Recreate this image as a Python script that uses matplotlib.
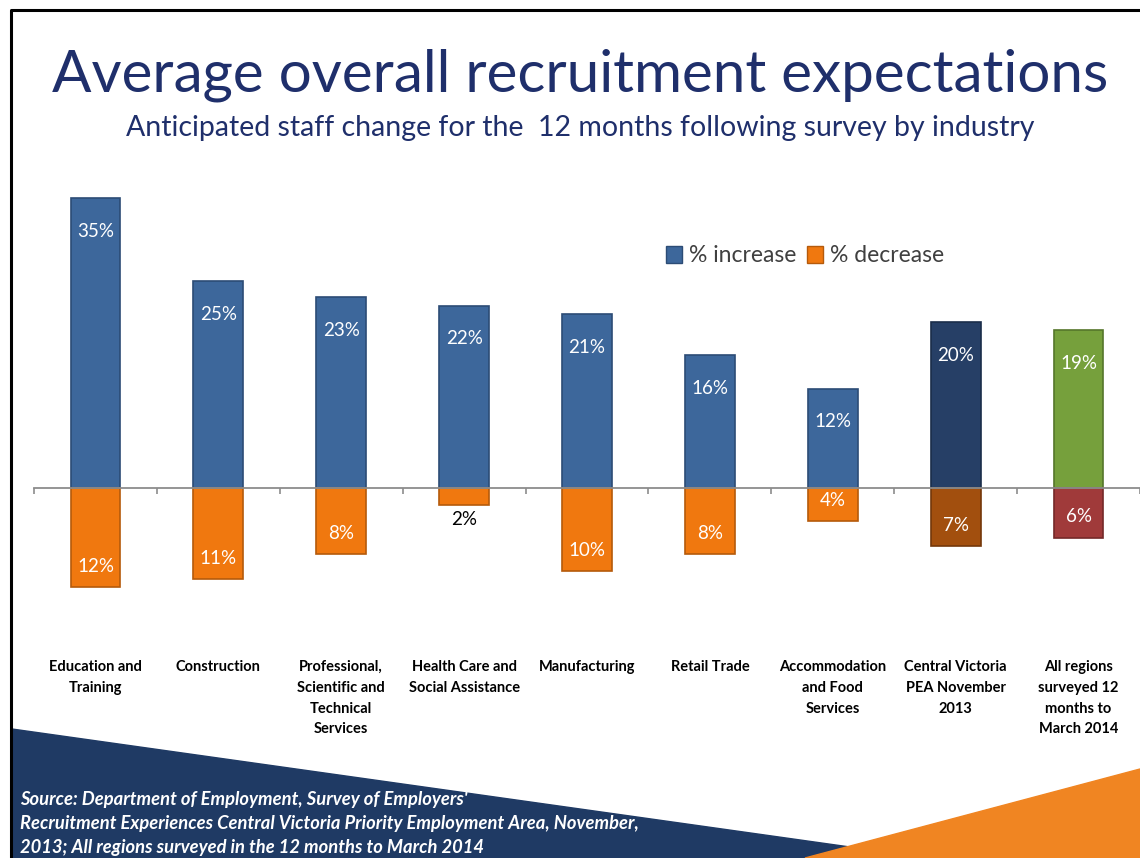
import matplotlib.pyplot as plt
from matplotlib.patches import Polygon, Patch
from matplotlib.lines import Line2D
import matplotlib.transforms as mtransforms

plt.rcParams['font.family'] = ['Lato', 'DejaVu Sans']

# datos
categorias = ["Education and\nTraining", "Construction",
              "Professional,\nScientific and\nTechnical\nServices",
              "Health Care and\nSocial Assistance", "Manufacturing", "Retail Trade",
              "Accommodation\nand Food\nServices", "Central Victoria\nPEA November\n2013",
              "All regions\nsurveyed 12\nmonths to\nMarch 2014"]
aumento = [35, 25, 23, 22, 21, 16, 12, 20, 19]
disminucion = [12, 11, 8, 2, 10, 8, 4, 7, 6]

col_aum = ["#3D679B"] * 7 + ["#263F66", "#76A03C"]
col_dis = ["#F0780F"] * 7 + ["#A24F0E", "#A03A3A"]
borde_aum = ["#2C4C75"] * 7 + ["#1A2D4A", "#55762A"]
borde_dis = ["#B55A0B"] * 7 + ["#74380A", "#742828"]

W, H = 1140, 858
fig = plt.figure(figsize=(W / 100, H / 100), dpi=100)

def fx(px):
    return px / W

def fy(py):
    return 1 - py / H

# fondo: triangulos de la diapositiva
fig.patches.append(Polygon([(fx(12), fy(729)), (fx(928), fy(858)), (fx(12), fy(858))],
                           closed=True, transform=fig.transFigure, color="#1F3A64", zorder=0))
fig.patches.append(Polygon([(fx(805), fy(858)), (fx(1140), fy(769)), (fx(1140), fy(858))],
                           closed=True, transform=fig.transFigure, color="#F08522", zorder=1))
# marco negro
fig.lines.append(Line2D([fx(11), fx(11), fx(1140)], [fy(858), fy(10), fy(10)],
                        transform=fig.transFigure, color="black", lw=2.2))

# titulos
fig.text(fx(580), fy(75), "Average overall recruitment expectations", ha="center", va="center",
         fontsize=42, color="#1F2F6B")
fig.text(fx(580), fy(128), "Anticipated staff change for the  12 months following survey by industry",
         ha="center", va="center", fontsize=20.5, color="#1F2F6B")

# grafico
y_top, y_bot = 180, 600
ax = fig.add_axes([fx(34), fy(y_bot), 1 - fx(34), (y_bot - y_top) / H])
escala = 8.29
ax.set_ylim(-(y_bot - 488) / escala, (488 - y_top) / escala)
paso = 123.6
ax.set_xlim(-0.5, -0.5 + (W - 34) / paso)

x = list(range(len(categorias)))
ax.bar(x, aumento, width=0.405, color=col_aum, edgecolor=borde_aum, linewidth=1.2, zorder=2)
ax.bar(x, [-d for d in disminucion], width=0.405, color=col_dis, edgecolor=borde_dis,
       linewidth=1.2, zorder=2)

for i in x:
    ax.annotate(f"{aumento[i]}%", (i, aumento[i]), xytext=(0, -24), textcoords="offset points",
                ha="center", va="center", color="white", fontsize=13.5, zorder=3)
    if disminucion[i] >= 4:
        ax.annotate(f"{disminucion[i]}%", (i, -disminucion[i]), xytext=(0, 15),
                    textcoords="offset points", ha="center", va="center", color="white",
                    fontsize=13.5, zorder=3)
    else:
        ax.annotate(f"{disminucion[i]}%", (i, -disminucion[i]), xytext=(0, -11),
                    textcoords="offset points", ha="center", va="center", color="black",
                    fontsize=13.5, zorder=3)

for s in ["top", "right", "left"]:
    ax.spines[s].set_visible(False)
ax.spines["bottom"].set_position(("data", 0))
ax.spines["bottom"].set_color("#8C8C8C")
ax.spines["bottom"].set_linewidth(1.3)
ax.set_yticks([])
ax.set_xticks([i - 0.5 for i in range(len(categorias) + 1)])
ax.set_xticklabels([])
ax.tick_params(axis="x", direction="out", length=4, color="#8C8C8C", width=1.2)
ax.patch.set_alpha(0)

# etiquetas de categoria
trans = mtransforms.blended_transform_factory(ax.transData, fig.transFigure)
for i, c in enumerate(categorias):
    ax.text(i, fy(660), c, transform=trans, ha="center", va="top", fontsize=10.5,
            fontweight="bold", linespacing=1.62, color="black", clip_on=False)

# leyenda
handles = [Patch(facecolor="#3D679B", edgecolor="#2C4C75", label="% increase"),
           Patch(facecolor="#F0780F", edgecolor="#B55A0B", label="% decrease")]
fig.legend(handles=handles, loc="center", bbox_to_anchor=(fx(805), fy(256)), ncol=2,
           frameon=False, fontsize=16.5, handlelength=0.7, handleheight=0.7,
           handletextpad=0.3, columnspacing=0.5, labelcolor="#404040")

# fuente
fig.text(fx(20), fy(824), "Source: Department of Employment, Survey of Employers'\n"
         "Recruitment Experiences Central Victoria Priority Employment Area, November,\n"
         "2013; All regions surveyed in the 12 months to March 2014",
         ha="left", va="center", color="white", fontsize=13.2, style="italic",
         fontweight="bold", linespacing=1.5, zorder=5)

fig.savefig("out.png", dpi=100)
